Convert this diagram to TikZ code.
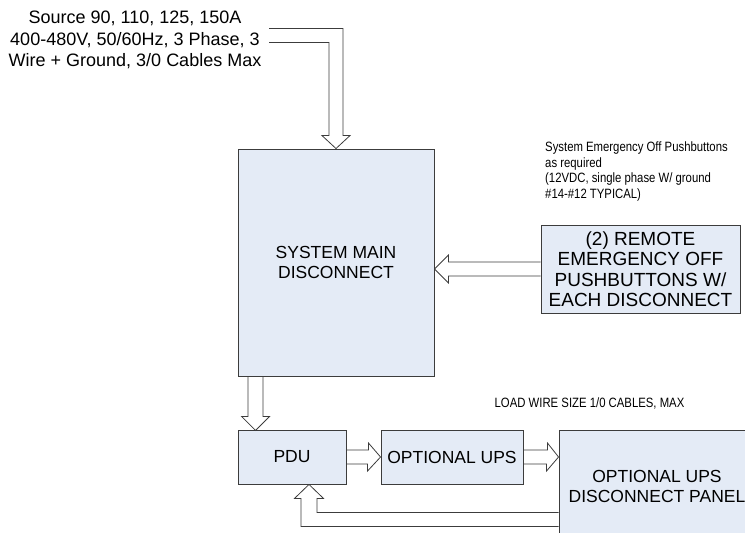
\documentclass[tikz,border=0pt]{standalone}
\usepackage{fontspec}
\setmainfont{Liberation Sans}
\newfontfamily\narrowsf[FakeStretch=0.84]{Liberation Sans}
\usetikzlibrary{calc}
\definecolor{boxblue}{RGB}{228,235,246}
\definecolor{edgegray}{RGB}{60,60,60}
\tikzset{
  blk/.style={draw=edgegray,fill=boxblue,line width=0.9pt,inner sep=0pt,align=center,
    font=\fontsize{17.5}{20}\selectfont},
  hollow/.style={draw=edgegray,line width=0.8pt,line join=miter}, % outlined block arrow
  note/.style={font=\narrowsf\fontsize{13.5}{15.5}\selectfont,align=left,inner sep=0pt},
}

\begin{document}
\begin{tikzpicture}[x=1pt,y=-1pt]
  \clip (0,0) rectangle (745,533);
  % supply text
  \node[font=\fontsize{18}{21.5}\selectfont,align=center,inner sep=0pt] (src) at (135,40)
    {Source 90, 110, 125, 150A\\400-480V, 50/60Hz, 3 Phase, 3\\Wire + Ground, 3/0 Cables Max};
  % boxes
  \node[blk,minimum width=196pt,minimum height=227pt] (main) at (336,262.5) {SYSTEM MAIN\\DISCONNECT};
  \node[blk,minimum width=199pt,minimum height=88pt,font=\fontsize{19}{20.5}\selectfont] (remote) at (640.5,269)
    {(2) REMOTE\\EMERGENCY OFF\\PUSHBUTTONS W/\\EACH DISCONNECT};
  \node[blk,minimum width=108pt,minimum height=54pt] (pdu) at (292,457) {PDU};
  \node[blk,minimum width=142pt,minimum height=54pt] (ups) at (452,457) {OPTIONAL UPS};
  \node[blk,minimum width=196pt,minimum height=112pt] (panel) at (657,486) {OPTIONAL UPS\\DISCONNECT PANEL};
  % notes
  \node[note,anchor=north west] (eonote) at (545,142)
    {System Emergency Off Pushbuttons\\as required\\(12VDC, single phase W/ ground\\\#14-\#12 TYPICAL)};
  \node[note] (loadnote) at (589.5,403) {LOAD WIRE SIZE 1/0 CABLES, MAX};
  % feed into main disconnect
  \draw[hollow] (main.north) -- ++(-14,-13) -- ++(7,0) -- ++(0,-93) -- ++(-60,0);
  \draw[hollow] (main.north) -- ++(14,-13) -- ++(-7,0) -- ++(0,-107) -- ++(-74,0);
  % remote EPO into main
  \draw[hollow] (main.east |- remote.west) -- ++(14,-14) -- ++(0,7) -- ($(remote.west)+(0,-7)$);
  \draw[hollow] (main.east |- remote.west) -- ++(14,14) -- ++(0,-7) -- ($(remote.west)+(0,7)$);
  % main down to PDU
  \draw[hollow] ($(main.south west)+(10.5,0)$) -- ++(0,40) -- ++(-6.5,0) -- ++(14,14)
    -- ++(14,-14) -- ++(-6.5,0) -- ++(0,-40);
  % PDU to UPS to panel
  \draw[hollow] ($(pdu.east)+(0,-7)$) -- ++(22,0) -- ++(0,-7) -- (ups.west)
    -- ++(-13,14) -- ++(0,-7) -- ($(pdu.east)+(0,7)$);
  \draw[hollow] ($(ups.east)+(0,-7)$) -- ++(24,0) -- ++(0,-7) -- (panel.west |- ups.east)
    -- ++(-12,14) -- ++(0,-7) -- ($(ups.east)+(0,7)$);
  % return from panel to PDU
  \draw[hollow] ($(pdu.south)+(17,0)$) coordinate (rtip) -- ++(14.5,14) -- ++(-6.5,0)
    -- ++(0,14) coordinate (r1) -- (r1 -| panel.west);
  \draw[hollow] (rtip) -- ++(-14.5,14) -- ++(6.5,0) -- ++(0,28) coordinate (r2) -- (r2 -| panel.west);
\end{tikzpicture}
\end{document}
